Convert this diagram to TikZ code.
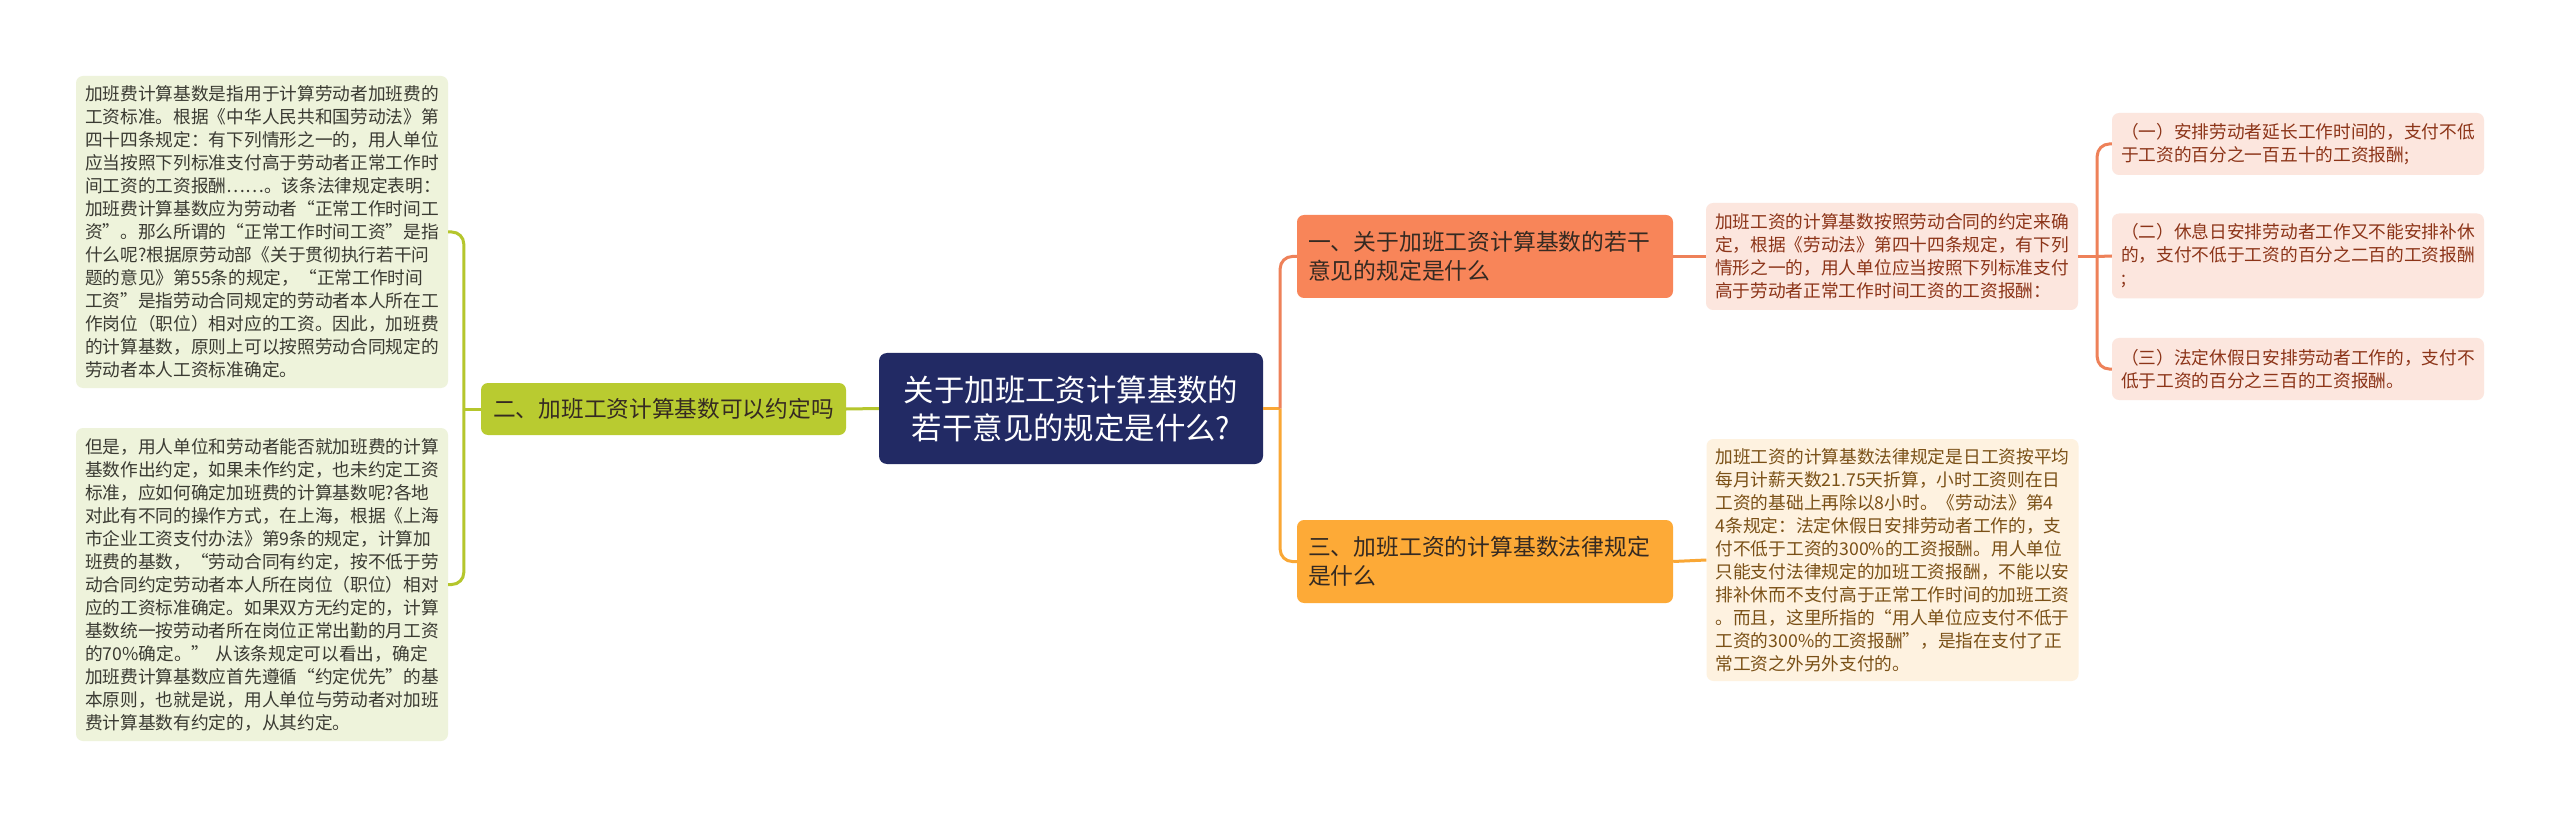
\documentclass[tikz,border=0pt]{standalone}
\usepackage{fontspec}
\setmainfont{Noto Sans CJK SC}
\definecolor{lgfill}{HTML}{EEF3DB}
\definecolor{lgtext}{HTML}{3A3A32}
\definecolor{gnode}{HTML}{B9CB30}
\definecolor{gline}{HTML}{B5C62C}
\definecolor{navy}{HTML}{222A64}
\definecolor{coral}{HTML}{F88559}
\definecolor{coralline}{HTML}{EE8159}
\definecolor{amber}{HTML}{FDAA37}
\definecolor{amberline}{HTML}{F9A735}
\definecolor{darktx}{HTML}{352A22}
\definecolor{pinkfill}{HTML}{FCE6DE}
\definecolor{pinktext}{HTML}{8C3418}
\definecolor{creamfill}{HTML}{FEF2E0}
\definecolor{creamtext}{HTML}{7A5016}
\begin{document}
\begin{tikzpicture}[x=1pt,y=-1pt,
  box/.style={rectangle, rounded corners=7pt, inner ysep=0pt, align=left},
  smalltxt/.style={font=\fontsize{17.7}{23}\selectfont, text width=354pt, inner xsep=9pt, minimum width=372pt},
  leftbox/.style={box, smalltxt, fill=lgfill, text=lgtext},
  r1box/.style={box, smalltxt, fill=pinkfill, text=pinktext},
  r3box/.style={box, smalltxt, fill=creamfill, text=creamtext},
  leafbox/.style={box, smalltxt, fill=pinkfill, text=pinktext, inner xsep=9pt, text width=354pt, minimum width=372pt},
  mainbox/.style={box, font=\fontsize{22.8}{29}\selectfont, text width=354pt, inner xsep=11pt, minimum width=376pt, minimum height=83pt, text=darktx},
  conn/.style={line width=3pt},
]
\useasboundingbox (0,0) rectangle (2560,818);
\fill[white] (0,0) rectangle (2560,818);

% central node
\node[box, fill=navy, text=white, align=center, rounded corners=8pt,
  font=\fontsize{30.4}{38}\selectfont, minimum width=384pt, minimum height=111pt, inner xsep=0pt]
  (c) at (1071,408.5) {关于加班工资计算基数的\\若干意见的规定是什么?};

% left branch
\node[box, fill=gnode, text=darktx, align=center, font=\fontsize{22.7}{28}\selectfont,
  minimum width=365pt, minimum height=52pt, inner xsep=0pt]
  (g) at (663.5,409) {二、加班工资计算基数可以约定吗};

\node[leftbox, minimum height=312pt] (l1) at (262,232) {加班费计算基数是指用于计算劳动者加班费的\\
工资标准。根据《中华人民共和国劳动法》第\\
四十四条规定：有下列情形之一的，用人单位\\
应当按照下列标准支付高于劳动者正常工作时\\
间工资的工资报酬……。该条法律规定表明：\\
加班费计算基数应为劳动者“正常工作时间工\\
资”。那么所谓的“正常工作时间工资”是指\\
什么呢?根据原劳动部《关于贯彻执行若干问\\
题的意见》第55条的规定，“正常工作时间\\
工资”是指劳动合同规定的劳动者本人所在工\\
作岗位（职位）相对应的工资。因此，加班费\\
的计算基数，原则上可以按照劳动合同规定的\\
劳动者本人工资标准确定。};

\node[leftbox, minimum height=313pt] (l2) at (262,584.5) {但是，用人单位和劳动者能否就加班费的计算\\
基数作出约定，如果未作约定，也未约定工资\\
标准，应如何确定加班费的计算基数呢?各地\\
对此有不同的操作方式，在上海，根据《上海\\
市企业工资支付办法》第9条的规定，计算加\\
班费的基数，“劳动合同有约定，按不低于劳\\
动合同约定劳动者本人所在岗位（职位）相对\\
应的工资标准确定。如果双方无约定的，计算\\
基数统一按劳动者所在岗位正常出勤的月工资\\
的70\%确定。” 从该条规定可以看出，确定\\
加班费计算基数应首先遵循“约定优先”的基\\
本原则，也就是说，用人单位与劳动者对加班\\
费计算基数有约定的，从其约定。};

% right branch
\node[mainbox, fill=coral] (n1) at (1485,256.5) {一、关于加班工资计算基数的若干\\意见的规定是什么};
\node[mainbox, fill=amber] (n3) at (1485,561.5) {三、加班工资的计算基数法律规定\\是什么};

\node[r1box, minimum height=107pt] (r1) at (1892,256.5) {加班工资的计算基数按照劳动合同的约定来确\\
定，根据《劳动法》第四十四条规定，有下列\\
情形之一的，用人单位应当按照下列标准支付\\
高于劳动者正常工作时间工资的工资报酬：};

\node[r3box, minimum height=242pt] (r3) at (1892.5,560) {加班工资的计算基数法律规定是日工资按平均\\
每月计薪天数21.75天折算，小时工资则在日\\
工资的基础上再除以8小时。《劳动法》第4\\
4条规定：法定休假日安排劳动者工作的，支\\
付不低于工资的300\%的工资报酬。用人单位\\
只能支付法律规定的加班工资报酬，不能以安\\
排补休而不支付高于正常工作时间的加班工资\\
。而且，这里所指的“用人单位应支付不低于\\
工资的300\%的工资报酬”，是指在支付了正\\
常工资之外另外支付的。};

\node[leafbox, minimum height=62pt] (a) at (2298,144) {（一）安排劳动者延长工作时间的，支付不低\\于工资的百分之一百五十的工资报酬;};
\node[leafbox, minimum height=85pt] (b) at (2298,256) {（二）休息日安排劳动者工作又不能安排补休\\的，支付不低于工资的百分之二百的工资报酬\\;};
\node[leafbox, minimum height=62pt] (cc) at (2298,369) {（三）法定休假日安排劳动者工作的，支付不\\低于工资的百分之三百的工资报酬。};

% connectors
\path (c.east) ++(17,0) coordinate (jr);
\path (g.west) ++(-17,0) coordinate (jl);
\path (r1.east) ++(19,0) coordinate (jf);

\draw[conn, gline] (c.west) -- (g.east);
\draw[conn, gline, rounded corners=12pt] (jl) |- (l1.east);
\draw[conn, gline, rounded corners=12pt] (jl) |- (l2.east);
\draw[conn, gline] (g.west) -- (jl);

\draw[conn, amberline] (c.east) -- (jr);
\draw[conn, coralline, rounded corners=12pt] (jr) |- (n1.west);
\draw[conn, amberline, rounded corners=12pt] (jr) |- (n3.west);

\draw[conn, coralline] (n1.east) -- (r1.west);
\draw[conn, amberline] (n3.east) -- (r3.west);

\draw[conn, coralline] (r1.east) -- (jf);
\draw[conn, coralline, rounded corners=12pt] (jf) |- (a.west);
\draw[conn, coralline] (jf) -- (b.west);
\draw[conn, coralline, rounded corners=12pt] (jf) |- (cc.west);
\end{tikzpicture}
\end{document}
